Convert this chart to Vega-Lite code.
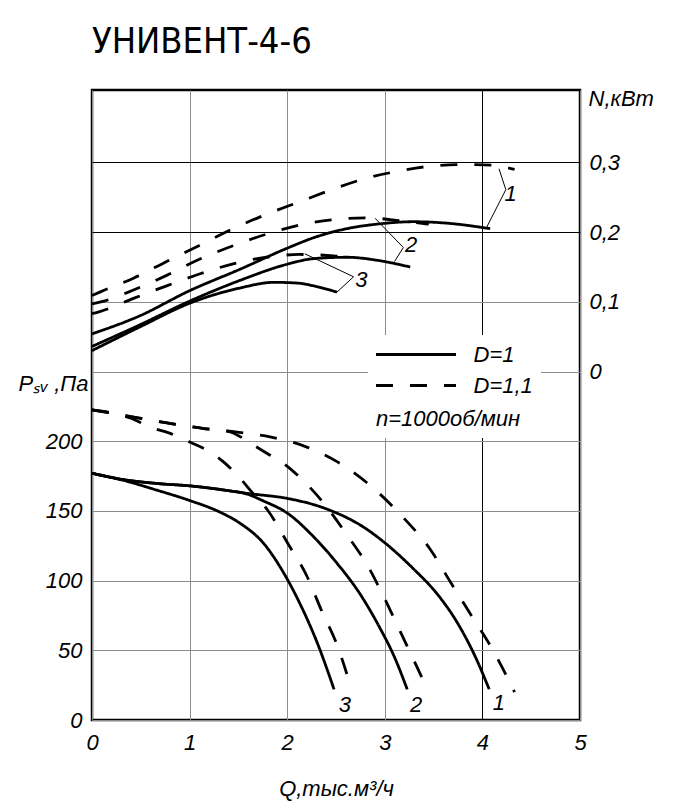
{
  "$schema": "https://vega.github.io/schema/vega-lite/v6.json",
  "width": 488,
  "height": 630,
  "autosize": {"type": "none"},
  "padding": {"left": 92, "top": 90, "right": 93, "bottom": 90},
  "title": {
    "text": "УНИВЕНТ-4-6",
    "anchor": "start",
    "frame": "group",
    "font": "'DejaVu Sans Condensed', 'Liberation Sans Narrow', 'Roboto', sans-serif",
    "fontSize": 36,
    "fontWeight": "normal",
    "color": "#000",
    "baseline": "alphabetic",
    "offset": 25,
    "dy": 27
  },
  "config": {
    "font": "Liberation Sans",
    "view": {"stroke": "#000", "strokeWidth": 2.5},
    "axis": {
      "labelFont": "Liberation Sans",
      "labelFontStyle": "italic",
      "labelFontSize": 22,
      "labelColor": "#000",
      "titleFont": "Liberation Sans",
      "titleFontStyle": "italic",
      "titleFontWeight": "normal",
      "titleFontSize": 22,
      "titleColor": "#000",
      "ticks": false,
      "domain": false,
      "gridWidth": 1,
      "labelFlush": false,
      "labelOverlap": false
    }
  },
  "datasets": {
    "p": [
      {"s": "1", "D": "D=1", "Q": 0, "P": 177},
      {"s": "1", "D": "D=1", "Q": 0.32, "P": 172.5},
      {"s": "1", "D": "D=1", "Q": 0.7, "P": 169.5},
      {"s": "1", "D": "D=1", "Q": 1.0, "P": 168},
      {"s": "1", "D": "D=1", "Q": 1.4, "P": 164.5},
      {"s": "1", "D": "D=1", "Q": 1.6, "P": 162.5},
      {"s": "1", "D": "D=1", "Q": 2.0, "P": 159},
      {"s": "1", "D": "D=1", "Q": 2.4, "P": 151.5},
      {"s": "1", "D": "D=1", "Q": 2.78, "P": 138.5},
      {"s": "1", "D": "D=1", "Q": 3.02, "P": 126},
      {"s": "1", "D": "D=1", "Q": 3.3, "P": 108},
      {"s": "1", "D": "D=1", "Q": 3.53, "P": 91},
      {"s": "1", "D": "D=1", "Q": 3.75, "P": 69},
      {"s": "1", "D": "D=1", "Q": 3.93, "P": 45},
      {"s": "1", "D": "D=1", "Q": 4.07, "P": 22},
      {"s": "2", "D": "D=1", "Q": 0, "P": 177},
      {"s": "2", "D": "D=1", "Q": 0.32, "P": 172.5},
      {"s": "2", "D": "D=1", "Q": 0.7, "P": 169.5},
      {"s": "2", "D": "D=1", "Q": 1.0, "P": 168},
      {"s": "2", "D": "D=1", "Q": 1.4, "P": 164.5},
      {"s": "2", "D": "D=1", "Q": 1.58, "P": 162.3},
      {"s": "2", "D": "D=1", "Q": 1.755, "P": 157.2},
      {"s": "2", "D": "D=1", "Q": 2.01, "P": 148},
      {"s": "2", "D": "D=1", "Q": 2.27, "P": 131.5},
      {"s": "2", "D": "D=1", "Q": 2.51, "P": 112.5},
      {"s": "2", "D": "D=1", "Q": 2.75, "P": 90},
      {"s": "2", "D": "D=1", "Q": 2.95, "P": 66},
      {"s": "2", "D": "D=1", "Q": 3.1, "P": 45},
      {"s": "2", "D": "D=1", "Q": 3.23, "P": 22},
      {"s": "3", "D": "D=1", "Q": 0, "P": 177},
      {"s": "3", "D": "D=1", "Q": 0.32, "P": 172},
      {"s": "3", "D": "D=1", "Q": 0.66, "P": 165},
      {"s": "3", "D": "D=1", "Q": 1.0, "P": 157.5},
      {"s": "3", "D": "D=1", "Q": 1.3, "P": 149.5},
      {"s": "3", "D": "D=1", "Q": 1.52, "P": 141},
      {"s": "3", "D": "D=1", "Q": 1.755, "P": 127},
      {"s": "3", "D": "D=1", "Q": 1.96, "P": 106},
      {"s": "3", "D": "D=1", "Q": 2.12, "P": 85},
      {"s": "3", "D": "D=1", "Q": 2.31, "P": 55},
      {"s": "3", "D": "D=1", "Q": 2.48, "P": 22},
      {"s": "1d", "D": "D=1,1", "Q": 0, "P": 222.5},
      {"s": "1d", "D": "D=1,1", "Q": 0.27, "P": 219.3},
      {"s": "1d", "D": "D=1,1", "Q": 0.535, "P": 215.9},
      {"s": "1d", "D": "D=1,1", "Q": 0.795, "P": 212.9},
      {"s": "1d", "D": "D=1,1", "Q": 1.145, "P": 209.1},
      {"s": "1d", "D": "D=1,1", "Q": 1.485, "P": 206.5},
      {"s": "1d", "D": "D=1,1", "Q": 1.825, "P": 203.1},
      {"s": "1d", "D": "D=1,1", "Q": 2.175, "P": 196.5},
      {"s": "1d", "D": "D=1,1", "Q": 2.515, "P": 185.2},
      {"s": "1d", "D": "D=1,1", "Q": 2.855, "P": 168},
      {"s": "1d", "D": "D=1,1", "Q": 3.19, "P": 145.2},
      {"s": "1d", "D": "D=1,1", "Q": 3.47, "P": 122},
      {"s": "1d", "D": "D=1,1", "Q": 3.685, "P": 97.5},
      {"s": "1d", "D": "D=1,1", "Q": 3.905, "P": 73},
      {"s": "1d", "D": "D=1,1", "Q": 4.105, "P": 50.5},
      {"s": "1d", "D": "D=1,1", "Q": 4.33, "P": 20},
      {"s": "2d", "D": "D=1,1", "Q": 0, "P": 222.5},
      {"s": "2d", "D": "D=1,1", "Q": 0.27, "P": 219.3},
      {"s": "2d", "D": "D=1,1", "Q": 0.535, "P": 215.9},
      {"s": "2d", "D": "D=1,1", "Q": 0.795, "P": 212.9},
      {"s": "2d", "D": "D=1,1", "Q": 1.145, "P": 209.1},
      {"s": "2d", "D": "D=1,1", "Q": 1.4, "P": 207},
      {"s": "2d", "D": "D=1,1", "Q": 1.55, "P": 202},
      {"s": "2d", "D": "D=1,1", "Q": 1.695, "P": 195.5},
      {"s": "2d", "D": "D=1,1", "Q": 2.035, "P": 180},
      {"s": "2d", "D": "D=1,1", "Q": 2.36, "P": 156.8},
      {"s": "2d", "D": "D=1,1", "Q": 2.61, "P": 133},
      {"s": "2d", "D": "D=1,1", "Q": 2.83, "P": 110},
      {"s": "2d", "D": "D=1,1", "Q": 2.985, "P": 89},
      {"s": "2d", "D": "D=1,1", "Q": 3.165, "P": 62.5},
      {"s": "2d", "D": "D=1,1", "Q": 3.45, "P": 20},
      {"s": "3d", "D": "D=1,1", "Q": 0, "P": 222.5},
      {"s": "3d", "D": "D=1,1", "Q": 0.27, "P": 219.3},
      {"s": "3d", "D": "D=1,1", "Q": 0.4, "P": 216.5},
      {"s": "3d", "D": "D=1,1", "Q": 0.585, "P": 210.5},
      {"s": "3d", "D": "D=1,1", "Q": 0.835, "P": 204.7},
      {"s": "3d", "D": "D=1,1", "Q": 1.0, "P": 199.5},
      {"s": "3d", "D": "D=1,1", "Q": 1.185, "P": 193.3},
      {"s": "3d", "D": "D=1,1", "Q": 1.35, "P": 185},
      {"s": "3d", "D": "D=1,1", "Q": 1.51, "P": 174},
      {"s": "3d", "D": "D=1,1", "Q": 1.65, "P": 162.5},
      {"s": "3d", "D": "D=1,1", "Q": 1.8, "P": 150.5},
      {"s": "3d", "D": "D=1,1", "Q": 2.01, "P": 126.3},
      {"s": "3d", "D": "D=1,1", "Q": 2.2, "P": 103.5},
      {"s": "3d", "D": "D=1,1", "Q": 2.355, "P": 78},
      {"s": "3d", "D": "D=1,1", "Q": 2.51, "P": 54},
      {"s": "3d", "D": "D=1,1", "Q": 2.66, "P": 22}
    ],
    "pl": [
      {"Q": 2.59, "P": 11, "t": "3"},
      {"Q": 3.32, "P": 11, "t": "2"},
      {"Q": 4.17, "P": 12, "t": "1"}
    ],
    "n": [
      {"s": "1", "D": "D=1", "Q": 0, "N": 0.054},
      {"s": "1", "D": "D=1", "Q": 0.49, "N": 0.080},
      {"s": "1", "D": "D=1", "Q": 1.0, "N": 0.116},
      {"s": "1", "D": "D=1", "Q": 1.52, "N": 0.147},
      {"s": "1", "D": "D=1", "Q": 2.0, "N": 0.177},
      {"s": "1", "D": "D=1", "Q": 2.27, "N": 0.192},
      {"s": "1", "D": "D=1", "Q": 2.61, "N": 0.205},
      {"s": "1", "D": "D=1", "Q": 2.95, "N": 0.212},
      {"s": "1", "D": "D=1", "Q": 3.29, "N": 0.215},
      {"s": "1", "D": "D=1", "Q": 3.63, "N": 0.213},
      {"s": "1", "D": "D=1", "Q": 4.08, "N": 0.205},
      {"s": "2", "D": "D=1", "Q": 0, "N": 0.036},
      {"s": "2", "D": "D=1", "Q": 0.49, "N": 0.067},
      {"s": "2", "D": "D=1", "Q": 1.0, "N": 0.101},
      {"s": "2", "D": "D=1", "Q": 1.52, "N": 0.131},
      {"s": "2", "D": "D=1", "Q": 2.0, "N": 0.154},
      {"s": "2", "D": "D=1", "Q": 2.27, "N": 0.162},
      {"s": "2", "D": "D=1", "Q": 2.61, "N": 0.164},
      {"s": "2", "D": "D=1", "Q": 2.95, "N": 0.159},
      {"s": "2", "D": "D=1", "Q": 3.26, "N": 0.150},
      {"s": "3", "D": "D=1", "Q": 0, "N": 0.030},
      {"s": "3", "D": "D=1", "Q": 0.49, "N": 0.064},
      {"s": "3", "D": "D=1", "Q": 1.0, "N": 0.098},
      {"s": "3", "D": "D=1", "Q": 1.52, "N": 0.120},
      {"s": "3", "D": "D=1", "Q": 1.86, "N": 0.128},
      {"s": "3", "D": "D=1", "Q": 2.1, "N": 0.127},
      {"s": "3", "D": "D=1", "Q": 2.3, "N": 0.122},
      {"s": "3", "D": "D=1", "Q": 2.51, "N": 0.114},
      {"s": "1d", "D": "D=1,1", "Q": 0, "N": 0.109},
      {"s": "1d", "D": "D=1,1", "Q": 0.08, "N": 0.114},
      {"s": "1d", "D": "D=1,1", "Q": 0.425, "N": 0.134},
      {"s": "1d", "D": "D=1,1", "Q": 0.765, "N": 0.158},
      {"s": "1d", "D": "D=1,1", "Q": 1.1, "N": 0.181},
      {"s": "1d", "D": "D=1,1", "Q": 1.445, "N": 0.205},
      {"s": "1d", "D": "D=1,1", "Q": 1.785, "N": 0.2255},
      {"s": "1d", "D": "D=1,1", "Q": 2.135, "N": 0.244},
      {"s": "1d", "D": "D=1,1", "Q": 2.475, "N": 0.262},
      {"s": "1d", "D": "D=1,1", "Q": 2.815, "N": 0.2775},
      {"s": "1d", "D": "D=1,1", "Q": 3.155, "N": 0.288},
      {"s": "1d", "D": "D=1,1", "Q": 3.495, "N": 0.295},
      {"s": "1d", "D": "D=1,1", "Q": 3.835, "N": 0.297},
      {"s": "1d", "D": "D=1,1", "Q": 4.1, "N": 0.296},
      {"s": "1d", "D": "D=1,1", "Q": 4.33, "N": 0.290},
      {"s": "2d", "D": "D=1,1", "Q": 0, "N": 0.097},
      {"s": "2d", "D": "D=1,1", "Q": 0.08, "N": 0.0995},
      {"s": "2d", "D": "D=1,1", "Q": 0.425, "N": 0.117},
      {"s": "2d", "D": "D=1,1", "Q": 0.765, "N": 0.138},
      {"s": "2d", "D": "D=1,1", "Q": 1.1, "N": 0.161},
      {"s": "2d", "D": "D=1,1", "Q": 1.445, "N": 0.1805},
      {"s": "2d", "D": "D=1,1", "Q": 1.785, "N": 0.197},
      {"s": "2d", "D": "D=1,1", "Q": 2.135, "N": 0.2105},
      {"s": "2d", "D": "D=1,1", "Q": 2.475, "N": 0.218},
      {"s": "2d", "D": "D=1,1", "Q": 2.815, "N": 0.2205},
      {"s": "2d", "D": "D=1,1", "Q": 3.155, "N": 0.2165},
      {"s": "2d", "D": "D=1,1", "Q": 3.45, "N": 0.2115},
      {"s": "3d", "D": "D=1,1", "Q": 0, "N": 0.083},
      {"s": "3d", "D": "D=1,1", "Q": 0.08, "N": 0.086},
      {"s": "3d", "D": "D=1,1", "Q": 0.425, "N": 0.105},
      {"s": "3d", "D": "D=1,1", "Q": 0.765, "N": 0.123},
      {"s": "3d", "D": "D=1,1", "Q": 1.1, "N": 0.140},
      {"s": "3d", "D": "D=1,1", "Q": 1.445, "N": 0.1545},
      {"s": "3d", "D": "D=1,1", "Q": 1.785, "N": 0.164},
      {"s": "3d", "D": "D=1,1", "Q": 2.13, "N": 0.168},
      {"s": "3d", "D": "D=1,1", "Q": 2.475, "N": 0.166},
      {"s": "3d", "D": "D=1,1", "Q": 2.63, "N": 0.163}
    ],
    "nl": [
      {"Q": 4.29, "N": 0.255, "t": "1"},
      {"Q": 3.27, "N": 0.182, "t": "2"},
      {"Q": 2.76, "N": 0.132, "t": "3"}
    ],
    "ld": [
      {"g": "1", "o": 1, "Q": 4.17, "N": 0.291},
      {"g": "1", "o": 2, "Q": 4.24, "N": 0.261},
      {"g": "1", "o": 3, "Q": 4.04, "N": 0.206},
      {"g": "2", "o": 1, "Q": 2.9, "N": 0.220},
      {"g": "2", "o": 2, "Q": 3.19, "N": 0.178},
      {"g": "2", "o": 3, "Q": 3.1, "N": 0.158},
      {"g": "3", "o": 1, "Q": 2.18, "N": 0.169},
      {"g": "3", "o": 2, "Q": 2.68, "N": 0.136},
      {"g": "3", "o": 3, "Q": 2.51, "N": 0.114}
    ]
  },
  "layer": [
    {
      "layer": [
        {
          "data": {"name": "p"},
          "mark": {"type": "line", "interpolate": "monotone", "strokeWidth": 2.8, "color": "#000", "clip": false},
          "encoding": {
            "x": {
              "field": "Q", "type": "quantitative",
              "scale": {"domain": [0, 5], "nice": false},
              "axis": {
                "values": [0, 1, 2, 3, 4, 5],
                "format": "d",
                "grid": true,
                "gridColor": {"condition": {"test": "datum.value === 4", "value": "#000"}, "value": "#8c8c8c"},
                "labelPadding": 12,
                "title": "Q,тыс.м³/ч",
                "titleY": 75,
                "titleBaseline": "alphabetic"
              }
            },
            "y": {
              "field": "P", "type": "quantitative",
              "scale": {"domain": [0, 452], "nice": false, "zero": false},
              "axis": {
                "orient": "left",
                "values": [0, 50, 100, 150, 200],
                "format": "d",
                "grid": true,
                "gridColor": "#8c8c8c",
                "labelPadding": 10,
                "title": "Pₛᵥ ,Па",
                "titleAngle": 0,
                "titleAlign": "left",
                "titleBaseline": "alphabetic",
                "titleX": -74,
                "titleY": 300
              }
            },
            "detail": {"field": "s"},
            "strokeDash": {
              "field": "D", "type": "nominal",
              "scale": {"domain": ["D=1", "D=1,1"], "range": [[1, 0], [17, 17]]},
              "legend": {
                "orient": "none",
                "legendX": 276,
                "legendY": 245,
                "fillColor": "#ffffff",
                "padding": 8,
                "title": "n=1000об/мин",
                "titleOrient": "bottom",
                "titleAnchor": "start",
                "titleAlign": "left",
                "titleFont": "Liberation Sans",
                "titleFontSize": 22,
                "titleFontStyle": "italic",
                "titleFontWeight": "normal",
                "titleColor": "#000",
                "titlePadding": 12,
                "labelFont": "Liberation Sans",
                "labelFontSize": 22,
                "labelFontStyle": "italic",
                "labelColor": "#000",
                "symbolType": "M-4,0H4",
                "symbolSize": 400,
                "symbolStrokeWidth": 2.8,
                "symbolStrokeColor": "#000",
                "symbolOffset": 28.5,
                "labelOffset": 46,
                "rowPadding": 8,
                "encode": {
                  "symbols": {"update": {"strokeDash": {"signal": "datum.value === 'D=1' ? [1, 0] : [19, 8]"}}}
                }
              }
            }
          }
        },
        {
          "data": {"name": "pl"},
          "mark": {"type": "text", "fontSize": 22, "fontStyle": "italic", "font": "Liberation Sans", "color": "#000", "align": "center", "baseline": "middle"},
          "encoding": {
            "x": {"field": "Q", "type": "quantitative"},
            "y": {"field": "P", "type": "quantitative"},
            "text": {"field": "t"}
          }
        }
      ]
    },
    {
      "layer": [
        {
          "data": {"name": "n"},
          "mark": {"type": "line", "interpolate": "monotone", "strokeWidth": 2.8, "color": "#000", "clip": false},
          "encoding": {
            "x": {"field": "Q", "type": "quantitative"},
            "y": {
              "field": "N", "type": "quantitative",
              "scale": {"domain": [-0.5, 0.404], "nice": false, "zero": false},
              "axis": {
                "orient": "right",
                "values": [0, 0.1, 0.2, 0.3],
                "labelExpr": "datum.value === 0 ? '0' : replace(format(datum.value, '.1f'), '.', ',')",
                "grid": true,
                "gridColor": {"condition": {"test": "datum.value >= 0.15", "value": "#000"}, "value": "#8c8c8c"},
                "labelPadding": 9,
                "title": "N,кВт",
                "titleAngle": 0,
                "titleAlign": "left",
                "titleBaseline": "alphabetic",
                "titleX": 8,
                "titleY": 15
              }
            },
            "detail": {"field": "s"},
            "strokeDash": {"field": "D", "type": "nominal"}
          }
        },
        {
          "data": {"name": "ld"},
          "mark": {"type": "line", "strokeWidth": 1, "color": "#000"},
          "encoding": {
            "x": {"field": "Q", "type": "quantitative"},
            "y": {"field": "N", "type": "quantitative"},
            "detail": {"field": "g"},
            "order": {"field": "o"}
          }
        },
        {
          "data": {"name": "nl"},
          "mark": {"type": "text", "fontSize": 22, "fontStyle": "italic", "font": "Liberation Sans", "color": "#000", "align": "center", "baseline": "middle"},
          "encoding": {
            "x": {"field": "Q", "type": "quantitative"},
            "y": {"field": "N", "type": "quantitative"},
            "text": {"field": "t"}
          }
        }
      ]
    }
  ],
  "resolve": {"scale": {"y": "independent"}}
}
